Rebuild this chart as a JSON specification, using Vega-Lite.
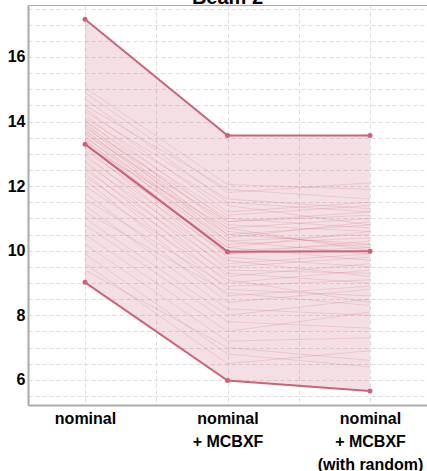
{
  "$schema": "https://vega.github.io/schema/vega-lite/v6.json",
  "width": 399,
  "height": 400,
  "autosize": "none",
  "padding": {"left": 28, "top": 5, "right": 0, "bottom": 66},
  "title": {"text": "Beam 2", "fontSize": 20, "font": "Liberation Sans", "fontWeight": "bold", "offset": -7, "anchor": "middle", "color": "#000000"},
  "config": {
    "font": "Liberation Sans",
    "view": {"stroke": "#aaaaaa", "strokeWidth": 1},
    "axis": {
      "ticks": false,
      "grid": true,
      "gridDash": [4, 3],
      "gridColor": "#dcdcdc",
      "gridWidth": 1,
      "domainColor": "#aaaaaa",
      "domainWidth": 2,
      "labelFont": "Liberation Sans",
      "labelFontSize": 16,
      "labelFontWeight": "bold",
      "labelColor": "#000000",
      "labelOverlap": false,
      "labelBound": false,
      "labelFlush": false,
      "title": null
    }
  },
  "datasets": {
    "band": [
      {"x": 0, "lo": 9.02, "hi": 17.17},
      {"x": 1, "lo": 5.98, "hi": 13.57},
      {"x": 2, "lo": 5.65, "hi": 13.57}
    ],
    "env": [
      {"x": 0, "k": "max", "v": 17.17},
      {"x": 1, "k": "max", "v": 13.57},
      {"x": 2, "k": "max", "v": 13.57},
      {"x": 0, "k": "median", "v": 13.3},
      {"x": 1, "k": "median", "v": 9.97},
      {"x": 2, "k": "median", "v": 9.98},
      {"x": 0, "k": "min", "v": 9.02},
      {"x": 1, "k": "min", "v": 5.98},
      {"x": 2, "k": "min", "v": 5.65}
    ],
    "seeds": [
      {"s": 1, "x": 0, "v": 15.05}, {"s": 1, "x": 1, "v": 12.05}, {"s": 1, "x": 2, "v": 11.9},
      {"s": 2, "x": 0, "v": 14.9}, {"s": 2, "x": 1, "v": 11.8}, {"s": 2, "x": 2, "v": 12.1},
      {"s": 3, "x": 0, "v": 14.7}, {"s": 3, "x": 1, "v": 11.5}, {"s": 3, "x": 2, "v": 11.2},
      {"s": 4, "x": 0, "v": 14.5}, {"s": 4, "x": 1, "v": 11.9}, {"s": 4, "x": 2, "v": 11.6},
      {"s": 5, "x": 0, "v": 14.4}, {"s": 5, "x": 1, "v": 11.2}, {"s": 5, "x": 2, "v": 11.5},
      {"s": 6, "x": 0, "v": 14.3}, {"s": 6, "x": 1, "v": 11.6}, {"s": 6, "x": 2, "v": 11.3},
      {"s": 7, "x": 0, "v": 14.2}, {"s": 7, "x": 1, "v": 10.9}, {"s": 7, "x": 2, "v": 11.1},
      {"s": 8, "x": 0, "v": 14.1}, {"s": 8, "x": 1, "v": 11.4}, {"s": 8, "x": 2, "v": 10.8},
      {"s": 9, "x": 0, "v": 14.05}, {"s": 9, "x": 1, "v": 10.7}, {"s": 9, "x": 2, "v": 11.0},
      {"s": 10, "x": 0, "v": 14.0}, {"s": 10, "x": 1, "v": 11.1}, {"s": 10, "x": 2, "v": 11.4},
      {"s": 11, "x": 0, "v": 13.95}, {"s": 11, "x": 1, "v": 10.5}, {"s": 11, "x": 2, "v": 10.2},
      {"s": 12, "x": 0, "v": 13.9}, {"s": 12, "x": 1, "v": 10.8}, {"s": 12, "x": 2, "v": 10.6},
      {"s": 13, "x": 0, "v": 13.85}, {"s": 13, "x": 1, "v": 10.4}, {"s": 13, "x": 2, "v": 10.9},
      {"s": 14, "x": 0, "v": 13.8}, {"s": 14, "x": 1, "v": 11.0}, {"s": 14, "x": 2, "v": 10.7},
      {"s": 15, "x": 0, "v": 13.75}, {"s": 15, "x": 1, "v": 10.3}, {"s": 15, "x": 2, "v": 10.5},
      {"s": 16, "x": 0, "v": 13.7}, {"s": 16, "x": 1, "v": 10.6}, {"s": 16, "x": 2, "v": 10.1},
      {"s": 17, "x": 0, "v": 13.65}, {"s": 17, "x": 1, "v": 10.2}, {"s": 17, "x": 2, "v": 10.4},
      {"s": 18, "x": 0, "v": 13.6}, {"s": 18, "x": 1, "v": 10.9}, {"s": 18, "x": 2, "v": 11.2},
      {"s": 19, "x": 0, "v": 13.55}, {"s": 19, "x": 1, "v": 10.1}, {"s": 19, "x": 2, "v": 9.7},
      {"s": 20, "x": 0, "v": 13.5}, {"s": 20, "x": 1, "v": 10.5}, {"s": 20, "x": 2, "v": 10.8},
      {"s": 21, "x": 0, "v": 13.45}, {"s": 21, "x": 1, "v": 9.9}, {"s": 21, "x": 2, "v": 10.3},
      {"s": 22, "x": 0, "v": 13.4}, {"s": 22, "x": 1, "v": 10.3}, {"s": 22, "x": 2, "v": 9.9},
      {"s": 23, "x": 0, "v": 13.35}, {"s": 23, "x": 1, "v": 10.0}, {"s": 23, "x": 2, "v": 10.2},
      {"s": 24, "x": 0, "v": 13.3}, {"s": 24, "x": 1, "v": 9.8}, {"s": 24, "x": 2, "v": 9.5},
      {"s": 25, "x": 0, "v": 13.25}, {"s": 25, "x": 1, "v": 10.7}, {"s": 25, "x": 2, "v": 10.0},
      {"s": 26, "x": 0, "v": 13.2}, {"s": 26, "x": 1, "v": 9.6}, {"s": 26, "x": 2, "v": 9.9},
      {"s": 27, "x": 0, "v": 13.1}, {"s": 27, "x": 1, "v": 10.1}, {"s": 27, "x": 2, "v": 10.6},
      {"s": 28, "x": 0, "v": 13.0}, {"s": 28, "x": 1, "v": 9.4}, {"s": 28, "x": 2, "v": 9.3},
      {"s": 29, "x": 0, "v": 12.9}, {"s": 29, "x": 1, "v": 9.9}, {"s": 29, "x": 2, "v": 10.1},
      {"s": 30, "x": 0, "v": 12.8}, {"s": 30, "x": 1, "v": 9.2}, {"s": 30, "x": 2, "v": 9.6},
      {"s": 31, "x": 0, "v": 12.7}, {"s": 31, "x": 1, "v": 9.7}, {"s": 31, "x": 2, "v": 9.2},
      {"s": 32, "x": 0, "v": 12.6}, {"s": 32, "x": 1, "v": 9.0}, {"s": 32, "x": 2, "v": 9.4},
      {"s": 33, "x": 0, "v": 12.5}, {"s": 33, "x": 1, "v": 9.5}, {"s": 33, "x": 2, "v": 9.8},
      {"s": 34, "x": 0, "v": 12.4}, {"s": 34, "x": 1, "v": 8.8}, {"s": 34, "x": 2, "v": 8.6},
      {"s": 35, "x": 0, "v": 12.3}, {"s": 35, "x": 1, "v": 9.3}, {"s": 35, "x": 2, "v": 9.0},
      {"s": 36, "x": 0, "v": 12.2}, {"s": 36, "x": 1, "v": 8.6}, {"s": 36, "x": 2, "v": 8.9},
      {"s": 37, "x": 0, "v": 12.0}, {"s": 37, "x": 1, "v": 9.1}, {"s": 37, "x": 2, "v": 8.4},
      {"s": 38, "x": 0, "v": 11.8}, {"s": 38, "x": 1, "v": 8.4}, {"s": 38, "x": 2, "v": 8.8},
      {"s": 39, "x": 0, "v": 11.6}, {"s": 39, "x": 1, "v": 8.9}, {"s": 39, "x": 2, "v": 9.1},
      {"s": 40, "x": 0, "v": 11.4}, {"s": 40, "x": 1, "v": 8.2}, {"s": 40, "x": 2, "v": 8.0},
      {"s": 41, "x": 0, "v": 11.2}, {"s": 41, "x": 1, "v": 8.7}, {"s": 41, "x": 2, "v": 8.3},
      {"s": 42, "x": 0, "v": 11.0}, {"s": 42, "x": 1, "v": 8.0}, {"s": 42, "x": 2, "v": 8.5},
      {"s": 43, "x": 0, "v": 10.8}, {"s": 43, "x": 1, "v": 7.8}, {"s": 43, "x": 2, "v": 7.6},
      {"s": 44, "x": 0, "v": 10.5}, {"s": 44, "x": 1, "v": 7.5}, {"s": 44, "x": 2, "v": 8.1},
      {"s": 45, "x": 0, "v": 10.2}, {"s": 45, "x": 1, "v": 7.2}, {"s": 45, "x": 2, "v": 7.3},
      {"s": 46, "x": 0, "v": 9.9}, {"s": 46, "x": 1, "v": 6.8}, {"s": 46, "x": 2, "v": 6.4},
      {"s": 47, "x": 0, "v": 9.6}, {"s": 47, "x": 1, "v": 6.5}, {"s": 47, "x": 2, "v": 6.9},
      {"s": 48, "x": 0, "v": 9.4}, {"s": 48, "x": 1, "v": 7.0}, {"s": 48, "x": 2, "v": 6.6}
    ]
  },
  "layer": [
    {
      "data": {"name": "band"},
      "mark": {"type": "area", "color": "#c9647a", "opacity": 0.2},
      "encoding": {
        "x": {
          "field": "x", "type": "quantitative",
          "scale": {"domain": [-0.4, 2.4], "nice": false, "zero": false},
          "axis": {
            "values": [0, 0.5, 1, 1.5, 2],
            "tickCount": 50,
            "labelExpr": "datum.value == 0 ? 'nominal' : datum.value == 1 ? ['nominal', '+ MCBXF'] : datum.value == 2 ? ['nominal', '+ MCBXF', '(with random)'] : ''",
            "labelLineHeight": 23,
            "labelPadding": 5
          }
        },
        "y": {
          "field": "lo", "type": "quantitative",
          "scale": {"domain": [5.22, 17.61], "nice": false, "zero": false},
          "axis": {
            "values": [5.5, 6, 6.5, 7, 7.5, 8, 8.5, 9, 9.5, 10, 10.5, 11, 11.5, 12, 12.5, 13, 13.5, 14, 14.5, 15, 15.5, 16, 16.5, 17, 17.5],
            "tickCount": 50,
            "labelExpr": "datum.value % 2 == 0 ? format(datum.value, 'd') : ''",
            "labelPadding": 3
          }
        },
        "y2": {"field": "hi"}
      }
    },
    {
      "data": {"name": "seeds"},
      "mark": {"type": "line", "color": "#c9647a", "opacity": 0.3, "strokeWidth": 0.7},
      "encoding": {
        "x": {"field": "x", "type": "quantitative"},
        "y": {"field": "v", "type": "quantitative"},
        "detail": {"field": "s", "type": "nominal"}
      }
    },
    {
      "data": {"name": "env"},
      "mark": {"type": "line", "color": "#c9647a", "strokeWidth": 2, "point": {"filled": true, "size": 25, "color": "#c9647a"}},
      "encoding": {
        "x": {"field": "x", "type": "quantitative"},
        "y": {"field": "v", "type": "quantitative"},
        "detail": {"field": "k", "type": "nominal"}
      }
    }
  ]
}
